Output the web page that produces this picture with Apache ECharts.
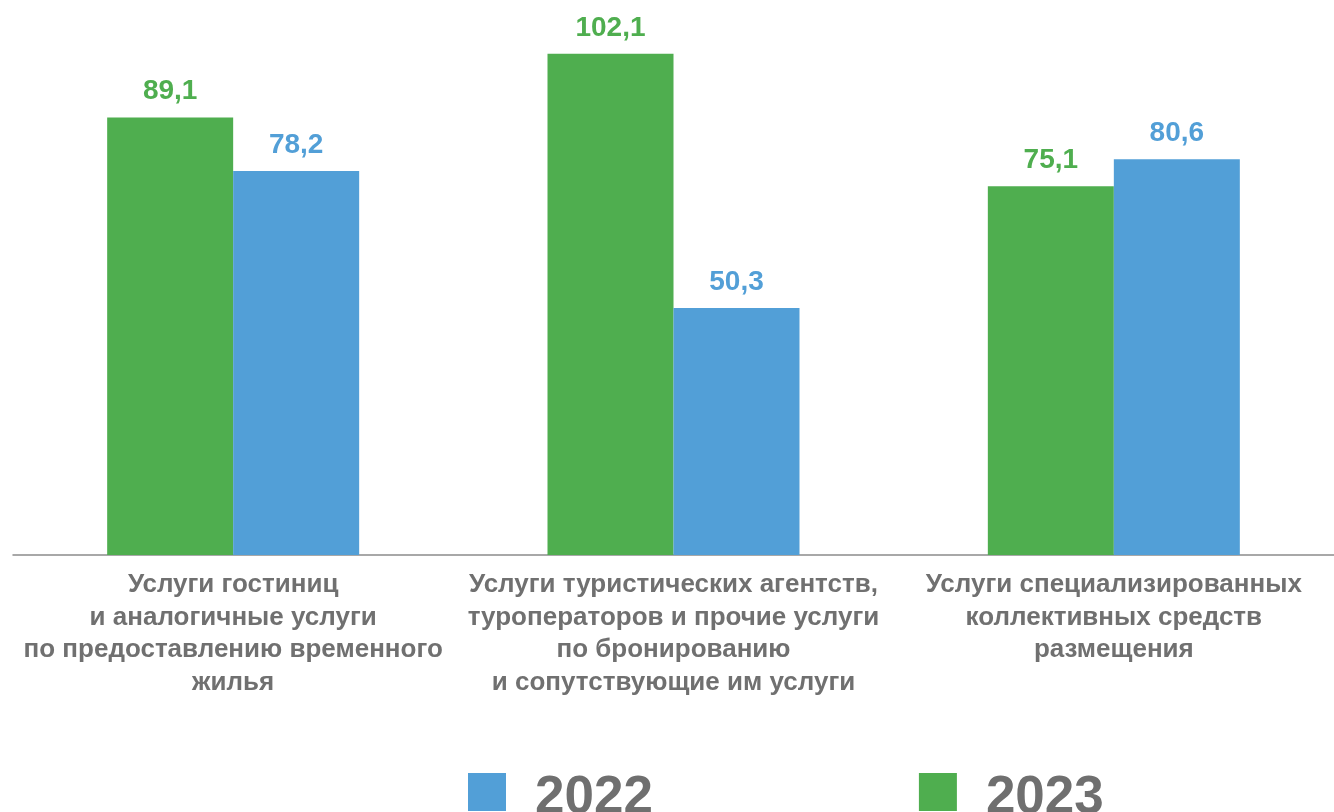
<!DOCTYPE html>
<html><head><meta charset="utf-8">
<script src="https://cdn.jsdelivr.net/npm/echarts@6/dist/echarts.min.js"></script>
<style>html,body{margin:0;padding:0;background:#fff}#c{width:1334px;height:812px}</style>
</head><body><div id="c"></div>
<script>
const categories = [
  'Услуги гостиниц\nи аналогичные услуги\nпо предоставлению временного\nжилья',
  'Услуги туристических агентств,\nтуроператоров и прочие услуги\nпо бронированию\nи сопутствующие им услуги',
  'Услуги специализированных\nколлективных средств\nразмещения'
];
const values2023 = [89.1, 102.1, 75.1];
const values2022 = [78.2, 50.3, 80.6];
const legendNames = ['2022', '2023'];

const GREEN = '#4FAE4F', BLUE = '#529FD7';
const FONT = 'Liberation Sans';
const fmt = p => String(p.value.toFixed(1)).replace('.', ',');
const chart = echarts.init(document.getElementById('c'), null, {renderer: 'canvas'});
chart.setOption({
  animation: false,
  grid: {left: 13, right: -5, top: 15, bottom: 257, containLabel: false},
  legend: {
    data: legendNames, left: 463, top: 767, itemWidth: 38, itemHeight: 51, itemGap: 266,
    icon: 'path://M0,0L38,0L38,38L0,38Z M0,51L0.01,51L0.01,51.01Z',
    textStyle: {fontFamily: FONT, fontWeight: 'bold', fontSize: 53, lineHeight: 53, color: '#6F6F6F', padding: [0,0,0,24]}
  },
  xAxis: {
    type: 'category', data: categories,
    axisLine: {lineStyle: {color: '#8C8C8C', width: 1.5}},
    axisTick: {show: false},
    axisLabel: {interval: 0, margin: 14, color: '#707070', fontFamily: FONT, fontWeight: 'bold', fontSize: 26, lineHeight: 32.5}
  },
  yAxis: {type: 'value', min: 0, max: 110, show: false, splitLine: {show: false}},
  series: [
    {name: '2023', type: 'bar', data: values2023, barWidth: 126, barGap: '0%', itemStyle: {color: GREEN},
     label: {show: true, position: 'top', distance: 12, formatter: fmt, color: GREEN, fontFamily: FONT, fontWeight: 'bold', fontSize: 28}},
    {name: '2022', type: 'bar', data: values2022, barWidth: 126, barGap: '0%', itemStyle: {color: BLUE},
     label: {show: true, position: 'top', distance: 12, formatter: fmt, color: BLUE, fontFamily: FONT, fontWeight: 'bold', fontSize: 28}}
  ]
});
</script></body></html>
